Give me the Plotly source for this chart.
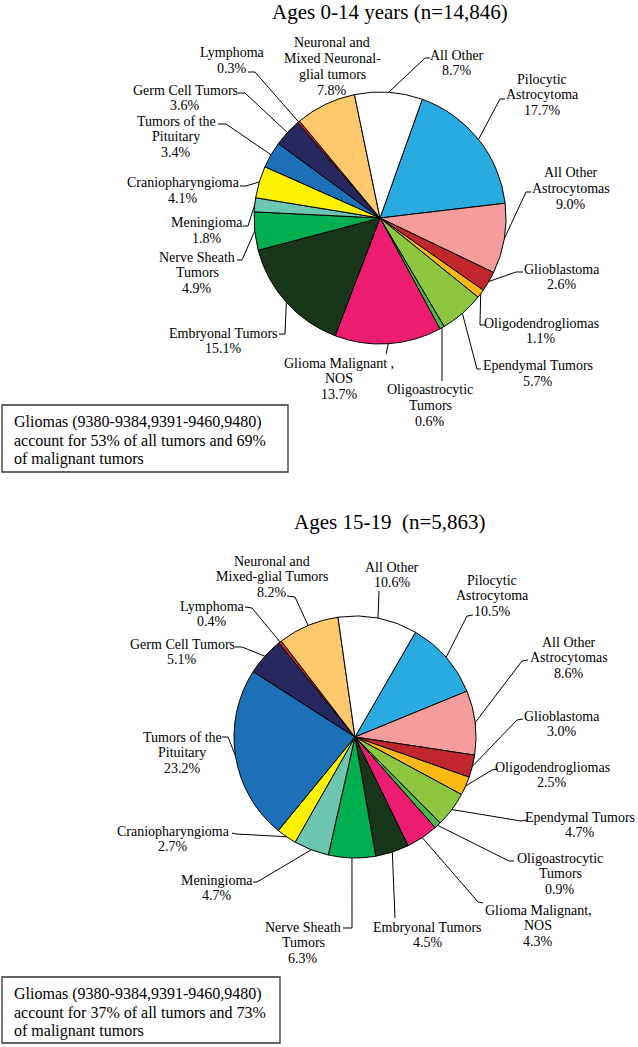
import math
import plotly.graph_objects as go

W, H = 638, 1047

# ---------------- data ----------------
categories = [
    "Pilocytic Astrocytoma", "All Other Astrocytomas", "Glioblastoma",
    "Oligodendrogliomas", "Ependymal Tumors", "Oligoastrocytic Tumors",
    "Glioma Malignant, NOS", "Embryonal Tumors", "Nerve Sheath Tumors",
    "Meningioma", "Craniopharyngioma", "Tumors of the Pituitary",
    "Germ Cell Tumors", "Lymphoma", "Neuronal and Mixed Neuronal-glial Tumors",
    "All Other",
]
values_0_14 = [17.7, 9.0, 2.6, 1.1, 5.7, 0.6, 13.7, 15.1, 4.9, 1.8, 4.1, 3.4, 3.6, 0.3, 7.8, 8.7]
values_15_19 = [10.5, 8.6, 3.0, 2.5, 4.7, 0.9, 4.3, 4.5, 6.3, 4.7, 2.7, 23.2, 5.1, 0.4, 8.2, 10.6]

label_lines_0_14 = [
    ["Pilocytic", "Astrocytoma"], ["All Other", "Astrocytomas"], ["Glioblastoma"],
    ["Oligodendrogliomas"], ["Ependymal Tumors"], ["Oligoastrocytic", "Tumors"],
    ["Glioma Malignant ,", "NOS"], ["Embryonal Tumors"], ["Nerve Sheath", "Tumors"],
    ["Meningioma"], ["Craniopharyngioma"], ["Tumors of the", "Pituitary"],
    ["Germ Cell Tumors"], ["Lymphoma"], ["Neuronal and", "Mixed Neuronal-", "glial tumors"],
    ["All Other"],
]
label_lines_15_19 = [
    ["Pilocytic", "Astrocytoma"], ["All Other", "Astrocytomas"], ["Glioblastoma"],
    ["Oligodendrogliomas"], ["Ependymal Tumors"], ["Oligoastrocytic", "Tumors"],
    ["Glioma Malignant,", "NOS"], ["Embryonal Tumors"], ["Nerve Sheath", "Tumors"],
    ["Meningioma"], ["Craniopharyngioma"], ["Tumors of the", "Pituitary"],
    ["Germ Cell Tumors"], ["Lymphoma"], ["Neuronal and", "Mixed-glial Tumors"],
    ["All Other"],
]

titles = ["Ages 0-14 years (n=14,846)", "Ages 15-19\u00a0\u00a0(n=5,863)"]
notes = [
    ["Gliomas (9380-9384,9391-9460,9480)", "account for 53% of all tumors and 69%", "of malignant tumors"],
    ["Gliomas (9380-9384,9391-9460,9480)", "account for 37% of all tumors and 73%", "of malignant tumors"],
]

# ---------------- style / layout ----------------
colors = [
    "#29ABE2", "#F59C9C", "#C1272D", "#FDB913", "#8DC63F", "#4DB848",
    "#EC1C71", "#17361A", "#00B050", "#6CC6B0", "#FFF200", "#1C70B8",
    "#25275E", "#D7262D", "#FDC96C", "#FFFFFF",
]
FONT = '"Liberation Serif", Tinos, "Times New Roman", Times, "DejaVu Serif", serif'
LBL_SIZE = 14
LINE_GAP = 15.8

pies = [
    dict(cx=380, cy=218, r=126, rot=19.6, title_x=390, title_y=12,
         box=(2, 405, 288, 472), note_y=422),
    dict(cx=355, cy=737, r=121, rot=30, title_x=389, title_y=522,
         box=(2, 977, 280, 1043), note_y=994),
]

# per label: (text centre x, first-line centre y, leader start, elbow)
label_layout_0_14 = [
    (542, 79, (505, 99), (500, 99)),
    (571, 173, (531, 192), (526, 192)),
    (562, 269, (523, 272), (516, 272)),
    (541, 323, (485, 325), (480, 325)),
    (538, 366, (481, 369), (477, 369)),
    (430, 390, (442, 381), None),
    (339, 363, (386, 354), None),
    (223, 333, (279, 334), (285, 334)),
    (197, 257, (237, 260), (242, 260)),
    (207, 223, (243, 226), (248, 226)),
    (183, 183, (240, 186), (246, 186)),
    (176, 121, (218, 124), (226, 124)),
    (185, 90, (238, 93), (245, 93)),
    (232, 53, (248, 72), (255, 72)),
    (332, 43, None, None),
    (457, 55, (430, 58), (425, 58)),
]
label_layout_15_19 = [
    (492, 580, (473, 615), (467, 616)),
    (569, 642, (528, 660), (522, 661)),
    (562, 716, (523, 719), (517, 720)),
    (552, 767, (498, 769), (492, 770)),
    (580, 817, (527, 820), (521, 821)),
    (560, 858, (514, 861), (509, 861)),
    (538, 910, (483, 903), (478, 902)),
    (428, 927, (395, 918), None),
    (303, 927, (343, 928), (352, 928)),
    (217, 880, (253, 882), (257, 882)),
    (173, 831, (232, 833), (236, 834)),
    (182, 737, (222, 737), (228, 737)),
    (182, 644, (235, 647), (242, 647)),
    (212, 606, (245, 607), (252, 608)),
    (272, 561, (287, 596), (295, 597)),
    (392, 567, (379, 591), None),
]


def X(x):
    return x / W


def Y(y):
    return 1 - y / H


fig = go.Figure()
annotations = []
shapes = []

datasets = [
    (values_0_14, label_lines_0_14, label_layout_0_14),
    (values_15_19, label_lines_15_19, label_layout_15_19),
]

for p, (vals, lines, lay), title, note in zip(pies, datasets, titles, notes):
    cx, cy, r = p["cx"], p["cy"], p["r"]
    fig.add_trace(go.Pie(
        values=vals, labels=categories, sort=False, direction="clockwise",
        rotation=p["rot"], textinfo="none", showlegend=False,
        marker=dict(colors=colors, line=dict(color="black", width=1)),
        domain=dict(x=[X(cx - r), X(cx + r)], y=[Y(cy + r), Y(cy - r)]),
    ))
    total = sum(vals)
    cum = 0.0
    for v, txt, (tx, ty, start, elbow) in zip(vals, lines, lay):
        mid = math.radians(p["rot"] + 360.0 * (cum + v / 2) / total)
        cum += v
        ex, ey = cx + r * math.sin(mid), cy - r * math.cos(mid)
        all_lines = txt + [f"{v:.1f}%"]
        for k, s in enumerate(all_lines):
            annotations.append(dict(
                x=X(tx), y=Y(ty + k * LINE_GAP), xref="paper", yref="paper",
                text=s, showarrow=False, xanchor="center", yanchor="middle",
                font=dict(family=FONT, size=LBL_SIZE, color="black"),
            ))
        if start is not None:
            pts = [start] + ([elbow] if elbow else []) + [(ex, ey)]
            path = "M " + " L ".join(f"{X(a):.5f},{Y(b):.5f}" for a, b in pts)
            shapes.append(dict(type="path", xref="paper", yref="paper", path=path,
                               line=dict(color="black", width=1)))
    annotations.append(dict(
        x=X(p["title_x"]), y=Y(p["title_y"]), xref="paper", yref="paper",
        text=title, showarrow=False, xanchor="center", yanchor="middle",
        font=dict(family=FONT, size=21, color="black"),
    ))
    x0, y0, x1, y1 = p["box"]
    shapes.append(dict(type="rect", xref="paper", yref="paper",
                       x0=X(x0), x1=X(x1), y0=Y(y1), y1=Y(y0),
                       line=dict(color="#333333", width=1.3)))
    for k, s in enumerate(note):
        annotations.append(dict(
            x=X(x0 + 10), y=Y(p["note_y"] + k * 18.3), xref="paper", yref="paper",
            text=s, showarrow=False, xanchor="left", yanchor="middle",
            font=dict(family=FONT, size=16, color="black"),
        ))

fig.update_layout(
    width=W, height=H, margin=dict(l=0, r=0, t=0, b=0),
    paper_bgcolor="white", plot_bgcolor="white",
    font=dict(family=FONT),
    annotations=annotations, shapes=shapes,
)
fig.write_html(
    "out.html",
    config={"displayModeBar": False},
    post_script="document.body.style.margin='0';document.body.style.padding='0';",
)
